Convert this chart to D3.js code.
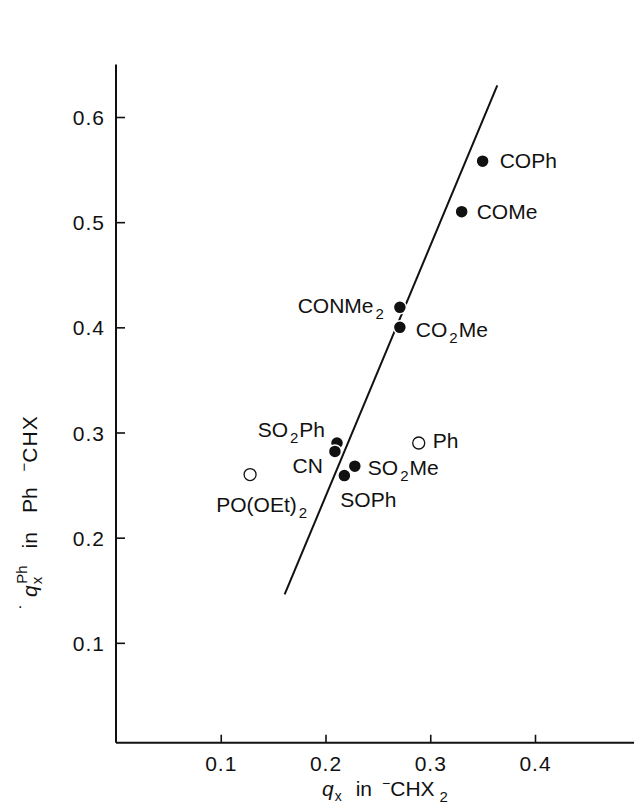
<!DOCTYPE html>
<html>
<head>
<meta charset="utf-8">
<script src="https://cdn.jsdelivr.net/npm/d3@7/dist/d3.min.js"></script>
<style>
  body { margin: 0; background: #fff; }
  svg { display: block; }
  text { font-family: "Liberation Sans", Arial, Helvetica, sans-serif; fill: #111; }
</style>
</head>
<body>
<div id="chart"></div>
<script>
const width = 634;
const height = 808;

// substituents (label parts: [text, isSubscript])
const names = ['COPh', 'COMe', 'CONMe2', 'CO2Me', 'SO2Ph', 'CN', 'SO2Me', 'SOPh', 'Ph', 'PO(OEt)2'];
const labelParts = [
  [['COPh', 0]],
  [['COMe', 0]],
  [['CONMe', 0], ['2', 1]],
  [['CO', 0], ['2', 1], ['Me', 0]],
  [['SO', 0], ['2', 1], ['Ph', 0]],
  [['CN', 0]],
  [['SO', 0], ['2', 1], ['Me', 0]],
  [['SOPh', 0]],
  [['Ph', 0]],
  [['PO(OEt)', 0], ['2', 1]],
];
// q_x in -CHX2
const qCHX2 = [0.350, 0.330, 0.271, 0.271, 0.211, 0.209, 0.228, 0.218, 0.289, 0.128];
// q_x^Ph in Ph-CHX
const qPhCHX = [0.558, 0.510, 0.419, 0.400, 0.290, 0.282, 0.268, 0.259, 0.290, 0.260];
// filled = on the correlation, open = off
const filled = [true, true, true, true, true, true, true, true, false, false];

// regression line ends
const fitX = [0.161, 0.364];
const fitY = [0.146, 0.630];

const xTicks = [0.1, 0.2, 0.3, 0.4];
const yTicks = [0.1, 0.2, 0.3, 0.4, 0.5, 0.6];

// label placement relative to the point: dx, dy, anchor
const labelPos = [
  [17, 7, 'start'],
  [15, 7, 'start'],
  [-16, 6, 'end'],
  [16, 10, 'start'],
  [-12, -6, 'end'],
  [-12, 22, 'end'],
  [13, 9, 'start'],
  [-4, 31, 'start'],
  [14, 5, 'start'],
  [57, 37, 'end'],
];

const x = d3.scaleLinear().domain([0, 0.4]).range([116, 535]);
const y = d3.scaleLinear().domain([0, 0.6]).range([748, 117]);
const xAxisAt = 0.005;
const xEnd = 0.5;
const yEnd = 0.65;

const svg = d3.select('#chart').append('svg')
  .attr('width', width).attr('height', height);

// axes
const gx = svg.append('g')
  .attr('transform', `translate(0,${y(xAxisAt)})`)
  .call(d3.axisTop(x).tickValues(xTicks).tickSize(8).tickSizeOuter(0).tickFormat(d3.format('.1f')));
const gy = svg.append('g')
  .attr('transform', `translate(${x(0)},0)`)
  .call(d3.axisRight(y).tickValues(yTicks).tickSize(9).tickSizeOuter(0).tickFormat(d3.format('.1f')));

[gx, gy].forEach(g => {
  g.select('.domain').remove();
  g.selectAll('.tick line').attr('stroke', '#111').attr('stroke-width', 1.6);
  g.selectAll('.tick text').attr('font-size', 21).style('letter-spacing', '1px').attr('fill', '#111');
});
gx.selectAll('.tick text').attr('y', 13).attr('dy', '0.71em');
gy.selectAll('.tick text').attr('x', -11).attr('text-anchor', 'end').attr('dy', '0.36em');

svg.append('line')
  .attr('x1', x(0)).attr('x2', x(xEnd))
  .attr('y1', y(xAxisAt)).attr('y2', y(xAxisAt))
  .attr('stroke', '#111').attr('stroke-width', 2);
svg.append('line')
  .attr('x1', x(0)).attr('x2', x(0))
  .attr('y1', y(xAxisAt)).attr('y2', y(yEnd))
  .attr('stroke', '#111').attr('stroke-width', 2);

// fit line
svg.append('line')
  .attr('x1', x(fitX[0])).attr('y1', y(fitY[0]))
  .attr('x2', x(fitX[1])).attr('y2', y(fitY[1]))
  .attr('stroke', '#111').attr('stroke-width', 2);

// points
const pts = names.map((n, i) => ({ n, i, qx: qCHX2[i], qy: qPhCHX[i], f: filled[i] }));

svg.append('g').selectAll('circle')
  .data(pts)
  .enter()
  .append('circle')
  .attr('cx', d => x(d.qx))
  .attr('cy', d => y(d.qy))
  .attr('r', d => (d.f ? 6.5 : 6))
  .attr('fill', d => (d.f ? '#111' : '#fff'))
  .attr('stroke', d => (d.f ? '#fff' : '#111'))
  .attr('stroke-width', d => (d.f ? 1.5 : 1.3));

// point labels
const lab = svg.append('g').selectAll('text')
  .data(pts)
  .enter()
  .append('text')
  .attr('x', d => x(d.qx) + labelPos[d.i][0])
  .attr('y', d => y(d.qy) + labelPos[d.i][1])
  .attr('text-anchor', d => labelPos[d.i][2])
  .attr('font-size', 21);

lab.each(function (d) {
  const t = d3.select(this);
  let shifted = false;
  labelParts[d.i].forEach(([s, sub]) => {
    const ts = t.append('tspan').text(s);
    if (sub && !shifted) { ts.attr('dy', 6).attr('font-size', 15).attr('dx', 2); shifted = true; }
    else if (!sub && shifted) { ts.attr('dy', -6).attr('dx', 1); shifted = false; }
  });
});

// axis titles
const xt = svg.append('text')
  .attr('x', 322).attr('y', 796)
  .attr('font-size', 21);
xt.append('tspan').text('q').style('font-style', 'italic');
xt.append('tspan').text('x').attr('font-size', 14).attr('dy', 5).attr('dx', 1);
xt.append('tspan').text('in').attr('dy', -5).attr('dx', 14);
xt.append('tspan').text('\u2212').attr('font-size', 14).attr('dy', -8).attr('dx', 10);
xt.append('tspan').text('CHX').attr('dy', 8);
xt.append('tspan').text('2').attr('font-size', 15).attr('dy', 6).attr('dx', 5);

const yt = svg.append('text')
  .attr('transform', 'translate(37,597) rotate(-90)')
  .attr('font-size', 21);
yt.append('tspan').text('q').style('font-style', 'italic');
yt.append('tspan').text('x').attr('font-size', 15).attr('dy', 5).attr('dx', 1);
yt.append('tspan').text('Ph').attr('font-size', 15).attr('dy', -15).attr('dx', -7);
yt.append('tspan').text('in').attr('dy', 10).attr('dx', 17);
yt.append('tspan').text('Ph').attr('dx', 19);
yt.append('tspan').text('\u2212').attr('font-size', 15).attr('dy', -8).attr('dx', 16);
yt.append('tspan').text('CHX').attr('dy', 8).style('letter-spacing', '1px');

// stray speck on the scan
svg.append('text').attr('x', 18).attr('y', 608).attr('font-size', 16).text('.');
</script>
</body>
</html>
